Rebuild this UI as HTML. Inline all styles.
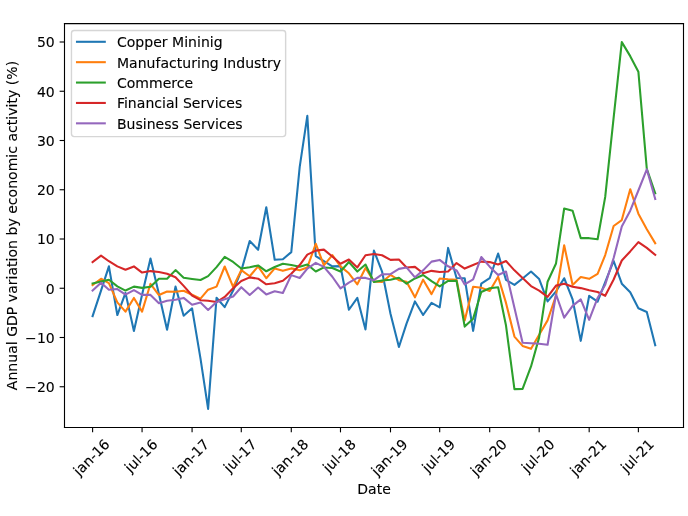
<!DOCTYPE html>
<html><head><meta charset="utf-8"><style>html,body{margin:0;padding:0;background:#fff;}svg{display:block;will-change:transform;} .t{stroke:#000;stroke-width:0.08px;font-size:10.1px;font-family:'DejaVu Sans',sans-serif;}</style></head><body>
<svg width="688" height="516" viewBox="0 0 495.36 371.52" version="1.1">
 
 <defs>
  <style type="text/css">*{stroke-linejoin: round; stroke-linecap: butt}</style>
 </defs>
 <g id="figure_1">
  <g id="patch_1">
   <path d="M 0 371.52 
L 495.36 371.52 
L 495.36 0 
L 0 0 
z
" style="fill: #ffffff"/>
  </g>
  <g id="axes_1">
   <g id="patch_2">
    <path d="M 46.44 307.8 
L 492.12 307.8 
L 492.12 16.992 
L 46.44 16.992 
z
" style="fill: #ffffff"/>
   </g>
   <g id="matplotlib.axis_1">
    <g id="xtick_1">
     <g id="line2d_1">
      <defs>
       <path id="m1504cfccaf" d="M 0 0 
L 0 3.5 
" style="stroke: #000000; stroke-width: 0.8"/>
      </defs>
      <g>
       <use href="#m1504cfccaf" x="66.672" y="307.8" style="stroke: #000000; stroke-width: 0.8"/>
      </g>
     </g>
     <g id="text_1">
      <text class="t" x="0.00 2.81 9.02 15.43 19.09 25.53" y="0.00" transform="translate(-0.36 0.65) translate(57.459172 342.500908) rotate(-45)">jan-16</text>
     </g>
    </g>
    <g id="xtick_2">
     <g id="line2d_2">
      <g>
       <use href="#m1504cfccaf" x="102.288672" y="307.8" style="stroke: #000000; stroke-width: 0.8"/>
      </g>
     </g>
     <g id="text_2">
      <text class="t" x="0.00 2.81 9.23 12.04 15.70 22.14" y="0.00" transform="translate(-0.36 0.65) translate(94.260248 340.1321) rotate(-45)">jul-16</text>
     </g>
    </g>
    <g id="xtick_3">
     <g id="line2d_3">
      <g>
       <use href="#m1504cfccaf" x="138.296736" y="307.8" style="stroke: #000000; stroke-width: 0.8"/>
      </g>
     </g>
     <g id="text_3">
      <text class="t" x="0.00 2.81 9.02 15.43 19.09 25.53" y="0.00" transform="translate(-0.36 0.65) translate(129.083908 342.500908) rotate(-45)">jan-17</text>
     </g>
    </g>
    <g id="xtick_4">
     <g id="line2d_4">
      <g>
       <use href="#m1504cfccaf" x="173.717712" y="307.8" style="stroke: #000000; stroke-width: 0.8"/>
      </g>
     </g>
     <g id="text_4">
      <text class="t" x="0.00 2.81 9.23 12.04 15.70 22.14" y="0.00" transform="translate(-0.36 0.65) translate(165.689288 340.1321) rotate(-45)">jul-17</text>
     </g>
    </g>
    <g id="xtick_5">
     <g id="line2d_5">
      <g>
       <use href="#m1504cfccaf" x="209.725776" y="307.8" style="stroke: #000000; stroke-width: 0.8"/>
      </g>
     </g>
     <g id="text_5">
      <text class="t" x="0.00 2.81 9.02 15.43 19.09 25.53" y="0.00" transform="translate(-0.36 0.65) translate(200.512948 342.500908) rotate(-45)">jan-18</text>
     </g>
    </g>
    <g id="xtick_6">
     <g id="line2d_6">
      <g>
       <use href="#m1504cfccaf" x="245.146752" y="307.8" style="stroke: #000000; stroke-width: 0.8"/>
      </g>
     </g>
     <g id="text_6">
      <text class="t" x="0.00 2.81 9.23 12.04 15.70 22.14" y="0.00" transform="translate(-0.36 0.65) translate(237.118328 340.1321) rotate(-45)">jul-18</text>
     </g>
    </g>
    <g id="xtick_7">
     <g id="line2d_7">
      <g>
       <use href="#m1504cfccaf" x="281.154816" y="307.8" style="stroke: #000000; stroke-width: 0.8"/>
      </g>
     </g>
     <g id="text_7">
      <text class="t" x="0.00 2.81 9.02 15.43 19.09 25.53" y="0.00" transform="translate(-0.36 0.65) translate(271.941988 342.500908) rotate(-45)">jan-19</text>
     </g>
    </g>
    <g id="xtick_8">
     <g id="line2d_8">
      <g>
       <use href="#m1504cfccaf" x="316.575792" y="307.8" style="stroke: #000000; stroke-width: 0.8"/>
      </g>
     </g>
     <g id="text_8">
      <text class="t" x="0.00 2.81 9.23 12.04 15.70 22.14" y="0.00" transform="translate(-0.36 0.65) translate(308.547368 340.1321) rotate(-45)">jul-19</text>
     </g>
    </g>
    <g id="xtick_9">
     <g id="line2d_9">
      <g>
       <use href="#m1504cfccaf" x="352.583856" y="307.8" style="stroke: #000000; stroke-width: 0.8"/>
      </g>
     </g>
     <g id="text_9">
      <text class="t" x="0.00 2.81 9.02 15.43 19.09 25.53" y="0.00" transform="translate(-0.36 0.65) translate(343.371028 342.500908) rotate(-45)">jan-20</text>
     </g>
    </g>
    <g id="xtick_10">
     <g id="line2d_10">
      <g>
       <use href="#m1504cfccaf" x="388.200528" y="307.8" style="stroke: #000000; stroke-width: 0.8"/>
      </g>
     </g>
     <g id="text_10">
      <text class="t" x="0.00 2.81 9.23 12.04 15.70 22.14" y="0.00" transform="translate(-0.36 0.65) translate(380.172104 340.1321) rotate(-45)">jul-20</text>
     </g>
    </g>
    <g id="xtick_11">
     <g id="line2d_11">
      <g>
       <use href="#m1504cfccaf" x="424.208592" y="307.8" style="stroke: #000000; stroke-width: 0.8"/>
      </g>
     </g>
     <g id="text_11">
      <text class="t" x="0.00 2.81 9.02 15.43 19.09 25.53" y="0.00" transform="translate(-0.36 0.65) translate(414.995764 342.500908) rotate(-45)">jan-21</text>
     </g>
    </g>
    <g id="xtick_12">
     <g id="line2d_12">
      <g>
       <use href="#m1504cfccaf" x="459.629568" y="307.8" style="stroke: #000000; stroke-width: 0.8"/>
      </g>
     </g>
     <g id="text_12">
      <text class="t" x="0.00 2.81 9.23 12.04 15.70 22.14" y="0.00" transform="translate(-0.36 0.65) translate(451.601144 340.1321) rotate(-45)">jul-21</text>
     </g>
    </g>
    <g id="text_13">
     <text class="t" x="257.18 264.98 271.18 275.15" y="355.57" transform="translate(0.00 0.36) rotate(-0 269.28 355.569907)">Date</text>
    </g>
   </g>
   <g id="matplotlib.axis_2">
    <g id="ytick_1">
     <g id="line2d_13">
      <defs>
       <path id="m5d545ce8f8" d="M 0 0 
L -3.5 0 
" style="stroke: #000000; stroke-width: 0.8"/>
      </defs>
      <g>
       <use href="#m5d545ce8f8" x="46.44" y="278.46" style="stroke: #000000; stroke-width: 0.8"/>
      </g>
     </g>
     <g id="text_14">
      <text class="t" x="18.07 26.56 33.00" y="282.26" transform="rotate(-0 39.44 282.259219)">−20</text>
     </g>
    </g>
    <g id="ytick_2">
     <g id="line2d_14">
      <g>
       <use href="#m5d545ce8f8" x="46.44" y="243" style="stroke: #000000; stroke-width: 0.8"/>
      </g>
     </g>
     <g id="text_15">
      <text class="t" x="18.07 26.56 33.00" y="246.80" transform="rotate(-0 39.44 246.799219)">−10</text>
     </g>
    </g>
    <g id="ytick_3">
     <g id="line2d_15">
      <g>
       <use href="#m5d545ce8f8" x="46.44" y="207.54" style="stroke: #000000; stroke-width: 0.8"/>
      </g>
     </g>
     <g id="text_16">
      <text class="t" x="33.00" y="211.34" transform="rotate(-0 39.44 211.339219)">0</text>
     </g>
    </g>
    <g id="ytick_4">
     <g id="line2d_16">
      <g>
       <use href="#m5d545ce8f8" x="46.44" y="172.08" style="stroke: #000000; stroke-width: 0.8"/>
      </g>
     </g>
     <g id="text_17">
      <text class="t" x="26.56 33.00" y="175.88" transform="rotate(-0 39.44 175.879219)">10</text>
     </g>
    </g>
    <g id="ytick_5">
     <g id="line2d_17">
      <g>
       <use href="#m5d545ce8f8" x="46.44" y="136.62" style="stroke: #000000; stroke-width: 0.8"/>
      </g>
     </g>
     <g id="text_18">
      <text class="t" x="26.56 33.00" y="140.42" transform="rotate(-0 39.44 140.419219)">20</text>
     </g>
    </g>
    <g id="ytick_6">
     <g id="line2d_18">
      <g>
       <use href="#m5d545ce8f8" x="46.44" y="101.16" style="stroke: #000000; stroke-width: 0.8"/>
      </g>
     </g>
     <g id="text_19">
      <text class="t" x="26.56 33.00" y="104.96" transform="rotate(-0 39.44 104.959219)">30</text>
     </g>
    </g>
    <g id="ytick_7">
     <g id="line2d_19">
      <g>
       <use href="#m5d545ce8f8" x="46.44" y="65.7" style="stroke: #000000; stroke-width: 0.8"/>
      </g>
     </g>
     <g id="text_20">
      <text class="t" x="26.56 33.00" y="69.50" transform="rotate(-0 39.44 69.499219)">40</text>
     </g>
    </g>
    <g id="ytick_8">
     <g id="line2d_20">
      <g>
       <use href="#m5d545ce8f8" x="46.44" y="30.24" style="stroke: #000000; stroke-width: 0.8"/>
      </g>
     </g>
     <g id="text_21">
      <text class="t" x="26.56 33.00" y="34.04" transform="rotate(-0 39.44 34.039219)">50</text>
     </g>
    </g>
    <g id="text_22">
     <text class="t" x="-106.31 -99.38 -92.97 -86.55 -80.13 -73.93 -71.11 -67.90 -60.05 -52.25 -46.15 -42.93 -36.94 -30.73 -26.57 -23.76 -17.55 -13.58 -10.77 -4.58 1.84 5.06 11.49 17.48 20.70 26.93 32.49 38.69 45.11 51.30 61.16 63.98 69.54 72.76 78.97 84.53 88.50 91.32 97.31 100.12 104.09 110.08 113.30 117.25 126.87" y="162.40" transform="translate(-0.36 0.00) rotate(-90 12.255625 162.396)">Annual GDP variation by economic activity (%)</text>
    </g>
   </g>
   <g id="line2d_21">
    <path d="M 66.672 227.629224 
L 72.738576 209.2068 
L 78.41376 191.778264 
L 84.480336 226.848312 
L 90.351216 210.875112 
L 96.417792 238.278024 
L 102.288672 212.22396 
L 108.355248 186.1344 
L 114.421824 211.69152 
L 120.292704 237.42612 
L 126.35928 206.36712 
L 132.23016 227.30976 
L 138.296736 221.98536 
L 144.363312 258.19128 
L 149.8428 294.3972 
L 155.909376 214.35372 
L 161.780256 221.133456 
L 167.846832 209.2068 
L 173.717712 195.0084 
L 179.784288 173.568816 
L 185.850864 179.851608 
L 191.721744 149.21856 
L 197.78832 187.0218 
L 203.6592 186.66684 
L 209.725776 181.51992 
L 215.792352 120.11184 
L 221.27184 83.37348 
L 227.338416 184.3596 
L 233.209296 188.08668 
L 239.275872 191.81376 
L 245.146752 191.63628 
L 251.213328 223.014744 
L 257.279904 214.5312 
L 263.150784 237.24864 
L 269.21736 180.419544 
L 275.08824 195.505344 
L 281.154816 225.88992 
L 287.221392 249.814224 
L 292.70088 232.98912 
L 298.767456 217.01592 
L 304.638336 226.812816 
L 310.704912 218.0808 
L 316.575792 221.27544 
L 322.642368 178.50276 
L 328.708944 200.15532 
L 334.579824 200.3328 
L 340.6464 238.278024 
L 346.51728 204.272856 
L 352.583856 200.3328 
L 358.650432 182.513808 
L 364.325616 201.57516 
L 370.392192 205.12476 
L 376.263072 200.51028 
L 382.329648 195.505344 
L 388.200528 200.936232 
L 394.267104 217.01592 
L 400.33368 209.774736 
L 406.20456 200.3328 
L 412.271136 215.59608 
L 418.142016 245.41272 
L 424.208592 212.969376 
L 430.275168 217.157904 
L 435.754656 203.17248 
L 441.821232 187.9092 
L 447.692112 204.23736 
L 453.758688 210.484656 
L 459.629568 221.98536 
L 465.696144 224.64756 
L 471.76272 248.571864 
" clip-path="url(#p4fcd1cd2eb)" style="fill: none; stroke: #1f77b4; stroke-width: 1.5; stroke-linecap: square"/>
   </g>
   <g id="line2d_22">
    <path d="M 66.672 205.266744 
L 72.738576 200.68776 
L 78.41376 203.8824 
L 84.480336 217.72584 
L 90.351216 224.363592 
L 96.417792 214.5312 
L 102.288672 224.363592 
L 108.355248 204.308352 
L 114.421824 212.40144 
L 120.292704 209.845728 
L 126.35928 210.0942 
L 132.23016 209.38428 
L 138.296736 212.259456 
L 144.363312 214.992648 
L 149.8428 208.567872 
L 155.909376 206.36712 
L 161.780256 191.884752 
L 167.846832 206.5446 
L 173.717712 194.546952 
L 179.784288 198.91296 
L 185.850864 191.81376 
L 191.721744 200.3328 
L 197.78832 193.2336 
L 203.6592 195.0084 
L 209.725776 193.2336 
L 215.792352 194.582448 
L 221.27184 192.559176 
L 227.338416 175.4856 
L 233.209296 191.10384 
L 239.275872 183.64968 
L 245.146752 191.81376 
L 251.213328 196.7832 
L 257.279904 204.698808 
L 263.150784 192.985128 
L 269.21736 202.604544 
L 275.08824 203.030496 
L 281.154816 197.990064 
L 287.221392 201.75264 
L 292.70088 202.81752 
L 298.767456 214.069752 
L 304.638336 201.362184 
L 310.704912 211.762512 
L 316.575792 200.51028 
L 322.642368 201.04272 
L 328.708944 201.39768 
L 334.579824 230.752872 
L 340.6464 206.473608 
L 346.51728 207.148032 
L 352.583856 209.490768 
L 358.650432 199.26792 
L 364.325616 218.0808 
L 370.392192 242.360064 
L 376.263072 249.068808 
L 382.329648 251.163072 
L 388.200528 240.97572 
L 394.267104 230.68188 
L 400.33368 212.7564 
L 406.20456 176.55048 
L 412.271136 205.195752 
L 418.142016 199.409904 
L 424.208592 200.758752 
L 430.275168 197.13816 
L 435.754656 183.64968 
L 441.821232 162.70704 
L 447.692112 158.44752 
L 453.758688 136.227024 
L 459.629568 153.83304 
L 465.696144 165.085272 
L 471.76272 175.13064 
" clip-path="url(#p4fcd1cd2eb)" style="fill: none; stroke: #ff7f0e; stroke-width: 1.5; stroke-linecap: square"/>
   </g>
   <g id="line2d_23">
    <path d="M 66.672 204.166368 
L 72.738576 202.604544 
L 78.41376 201.39768 
L 84.480336 206.18964 
L 90.351216 209.2068 
L 96.417792 206.36712 
L 102.288672 207.25452 
L 108.355248 206.402616 
L 114.421824 200.68776 
L 120.292704 200.68776 
L 126.35928 194.47596 
L 132.23016 199.97784 
L 138.296736 200.829744 
L 144.363312 201.57516 
L 149.8428 198.806472 
L 155.909376 192.3462 
L 161.780256 184.89204 
L 167.846832 188.61912 
L 173.717712 193.304592 
L 179.784288 192.417192 
L 185.850864 191.139336 
L 191.721744 195.327864 
L 197.78832 192.275208 
L 203.6592 189.932472 
L 209.725776 190.819872 
L 215.792352 192.062232 
L 221.27184 190.464912 
L 227.338416 195.505344 
L 233.209296 192.559176 
L 239.275872 192.985128 
L 245.146752 195.505344 
L 251.213328 188.61912 
L 257.279904 195.505344 
L 263.150784 190.464912 
L 269.21736 203.030496 
L 275.08824 201.93012 
L 281.154816 201.362184 
L 287.221392 199.97784 
L 292.70088 204.272856 
L 298.767456 200.51028 
L 304.638336 197.990064 
L 310.704912 202.46256 
L 316.575792 206.260632 
L 322.642368 202.28508 
L 328.708944 202.1076 
L 334.579824 235.154376 
L 340.6464 229.43952 
L 346.51728 210.27168 
L 352.583856 207.538488 
L 358.650432 206.793072 
L 364.325616 234.40896 
L 370.392192 280.1988 
L 376.263072 280.056816 
L 382.329648 263.87064 
L 388.200528 242.928 
L 394.267104 202.81752 
L 400.33368 189.684 
L 406.20456 150.10596 
L 412.271136 151.774272 
L 418.142016 171.474552 
L 424.208592 171.474552 
L 430.275168 172.29096 
L 435.754656 141.7644 
L 441.821232 84.61584 
L 447.692112 30.30696 
L 453.758688 40.42332 
L 459.629568 51.60456 
L 465.696144 121.53168 
L 471.76272 139.137696 
" clip-path="url(#p4fcd1cd2eb)" style="fill: none; stroke: #2ca02c; stroke-width: 1.5; stroke-linecap: square"/>
   </g>
   <g id="line2d_24">
    <path d="M 66.672 188.725608 
L 72.738576 184.075632 
L 78.41376 188.08668 
L 84.480336 191.81376 
L 90.351216 194.227488 
L 96.417792 191.81376 
L 102.288672 196.25076 
L 108.355248 195.18588 
L 114.421824 195.8958 
L 120.292704 197.13816 
L 126.35928 199.62288 
L 132.23016 205.83468 
L 138.296736 212.7564 
L 144.363312 216.12852 
L 149.8428 216.48348 
L 155.909376 217.477368 
L 161.780256 213.82128 
L 167.846832 207.60948 
L 173.717712 202.28508 
L 179.784288 199.693872 
L 185.850864 200.68776 
L 191.721744 204.698808 
L 197.78832 203.8824 
L 203.6592 202.178592 
L 209.725776 197.13816 
L 215.792352 190.819872 
L 221.27184 183.29472 
L 227.338416 180.45504 
L 233.209296 179.74512 
L 239.275872 184.71456 
L 245.146752 189.932472 
L 251.213328 186.84432 
L 257.279904 192.559176 
L 263.150784 183.756168 
L 269.21736 182.93976 
L 275.08824 183.756168 
L 281.154816 187.128288 
L 287.221392 186.84432 
L 292.70088 192.559176 
L 298.767456 192.133224 
L 304.638336 196.747704 
L 310.704912 195.0084 
L 316.575792 195.8958 
L 322.642368 195.54084 
L 328.708944 189.435528 
L 334.579824 193.375584 
L 340.6464 190.855368 
L 346.51728 188.370648 
L 352.583856 188.725608 
L 358.650432 190.464912 
L 364.325616 187.944696 
L 370.392192 194.65344 
L 376.263072 200.084328 
L 382.329648 205.941168 
L 388.200528 209.313288 
L 394.267104 213.750288 
L 400.33368 205.6572 
L 406.20456 204.23736 
L 412.271136 206.473608 
L 418.142016 207.432 
L 424.208592 209.02932 
L 430.275168 210.27168 
L 435.754656 212.969376 
L 441.821232 201.255696 
L 447.692112 187.55424 
L 453.758688 181.022976 
L 459.629568 174.314232 
L 465.696144 178.50276 
L 471.76272 183.507696 
" clip-path="url(#p4fcd1cd2eb)" style="fill: none; stroke: #d62728; stroke-width: 1.5; stroke-linecap: square"/>
   </g>
   <g id="line2d_25">
    <path d="M 66.672 209.2068 
L 72.738576 203.598432 
L 78.41376 208.603368 
L 84.480336 208.14192 
L 90.351216 212.081976 
L 96.417792 208.85184 
L 102.288672 212.330448 
L 108.355248 212.330448 
L 114.421824 218.364768 
L 120.292704 216.589968 
L 126.35928 215.77356 
L 132.23016 214.495704 
L 138.296736 219.429648 
L 144.363312 217.867824 
L 149.8428 223.192224 
L 155.909376 217.37088 
L 161.780256 215.489592 
L 167.846832 213.46632 
L 173.717712 206.793072 
L 179.784288 212.40144 
L 185.850864 207.006048 
L 191.721744 211.975488 
L 197.78832 209.668248 
L 203.6592 210.9816 
L 209.725776 198.096552 
L 215.792352 200.15532 
L 221.27184 193.41108 
L 227.338416 189.222552 
L 233.209296 192.133224 
L 239.275872 199.26792 
L 245.146752 207.644976 
L 251.213328 203.456448 
L 257.279904 200.084328 
L 263.150784 200.084328 
L 269.21736 201.75264 
L 275.08824 197.564112 
L 281.154816 197.31564 
L 287.221392 193.58856 
L 292.70088 192.559176 
L 298.767456 199.658376 
L 304.638336 194.65344 
L 310.704912 188.370648 
L 316.575792 187.128288 
L 322.642368 191.742768 
L 328.708944 194.65344 
L 334.579824 204.805296 
L 340.6464 201.149208 
L 346.51728 185.06952 
L 352.583856 191.99124 
L 358.650432 197.990064 
L 364.325616 195.505344 
L 370.392192 221.6304 
L 376.263072 246.83256 
L 382.329648 247.18752 
L 388.200528 247.54248 
L 394.267104 248.2524 
L 400.33368 211.869 
L 406.20456 228.7296 
L 412.271136 220.21056 
L 418.142016 215.525088 
L 424.208592 230.255928 
L 430.275168 214.5312 
L 435.754656 204.94728 
L 441.821232 185.77944 
L 447.692112 163.062 
L 453.758688 151.70328 
L 459.629568 137.14992 
L 465.696144 121.88664 
L 471.76272 143.326224 
" clip-path="url(#p4fcd1cd2eb)" style="fill: none; stroke: #9467bd; stroke-width: 1.5; stroke-linecap: square"/>
   </g>
   <g id="patch_3">
    <path d="M 46.44 307.8 
L 46.44 16.992 
" style="fill: none; stroke: #000000; stroke-width: 0.8; stroke-linejoin: miter; stroke-linecap: square"/>
   </g>
   <g id="patch_4">
    <path d="M 492.12 307.8 
L 492.12 16.992 
" style="fill: none; stroke: #000000; stroke-width: 0.8; stroke-linejoin: miter; stroke-linecap: square"/>
   </g>
   <g id="patch_5">
    <path d="M 46.44 307.8 
L 492.12 307.8 
" style="fill: none; stroke: #000000; stroke-width: 0.8; stroke-linejoin: miter; stroke-linecap: square"/>
   </g>
   <g id="patch_6">
    <path d="M 46.44 16.992 
L 492.12 16.992 
" style="fill: none; stroke: #000000; stroke-width: 0.8; stroke-linejoin: miter; stroke-linecap: square"/>
   </g>
   <g id="legend_1">
    <g id="patch_7">
     <path d="M 53.4400 98.382625 
L 203.6619 98.382625 
Q 205.6619 98.382625 205.6619 96.382625 
L 205.6619 23.992 
Q 205.6619 21.992 203.6619 21.992 
L 53.4400 21.992 
Q 51.4400 21.992 51.44 23.992 
L 51.4400 96.382625 
Q 51.4400 98.382625 53.44 98.382625 
z
" style="fill: #ffffff; opacity: 0.8; stroke: #cccccc; stroke-linejoin: miter"/>
    </g>
    <g id="line2d_26">
     <path d="M 55.44 30.090438 
L 65.44 30.090438 
L 75.44 30.090438 
" style="fill: none; stroke: #1f77b4; stroke-width: 1.5; stroke-linecap: square"/>
    </g>
    <g id="text_23">
     <text class="t" x="83.44 90.51 96.70 103.13 109.56 115.79 119.95 123.17 131.90 134.72 141.13 143.95 150.36 153.18" y="33.59" transform="translate(0.72 0.36) rotate(-0 83.44 33.590438)">Copper Mininig</text>
    </g>
    <g id="line2d_27">
     <path d="M 55.44 44.768563 
L 65.44 44.768563 
L 75.44 44.768563 
" style="fill: none; stroke: #ff7f0e; stroke-width: 1.5; stroke-linecap: square"/>
    </g>
    <g id="text_24">
     <text class="t" x="83.44 92.18 98.38 104.80 111.21 114.78 120.98 126.55 130.52 136.94 141.10 143.91 150.33 156.76 159.98 162.96 169.38 175.81 182.22 187.50 191.47 195.63" y="48.27" transform="translate(0.72 0.36) rotate(-0 83.44 48.268563)">Manufacturing Industry</text>
    </g>
    <g id="line2d_28">
     <path d="M 55.44 59.446687 
L 65.44 59.446687 
L 75.44 59.446687 
" style="fill: none; stroke: #2ca02c; stroke-width: 1.5; stroke-linecap: square"/>
    </g>
    <g id="text_25">
     <text class="t" x="83.44 90.51 96.70 106.57 116.43 122.66 126.60 132.17" y="62.95" transform="translate(0.72 0.36) rotate(-0 83.44 62.946687)">Commerce</text>
    </g>
    <g id="line2d_29">
     <path d="M 55.44 74.124813 
L 65.44 74.124813 
L 75.44 74.124813 
" style="fill: none; stroke: #d62728; stroke-width: 1.5; stroke-linecap: square"/>
    </g>
    <g id="text_26">
     <text class="t" x="83.44 88.53 91.34 97.76 103.96 110.38 115.95 118.76 124.97 127.78 131.00 137.42 143.65 147.82 153.81 156.62 162.19 168.42" y="77.62" transform="translate(0.72 0.36) rotate(-0 83.44 77.624813)">Financial Services</text>
    </g>
    <g id="line2d_30">
     <path d="M 55.44 88.802937 
L 65.44 88.802937 
L 75.44 88.802937 
" style="fill: none; stroke: #9467bd; stroke-width: 1.5; stroke-linecap: square"/>
    </g>
    <g id="text_27">
     <text class="t" x="83.44 90.39 96.80 102.08 104.89 111.31 117.54 122.81 128.09 131.31 137.73 143.96 148.13 154.12 156.93 162.50 168.73" y="92.30" transform="translate(0.72 0.36) rotate(-0 83.44 92.302937)">Business Services</text>
    </g>
   </g>
  </g>
 </g>
 <defs>
  <clipPath id="p4fcd1cd2eb">
   <rect x="46.44" y="16.992" width="445.68" height="290.808"/>
  </clipPath>
 </defs>
</svg>

</body></html>
